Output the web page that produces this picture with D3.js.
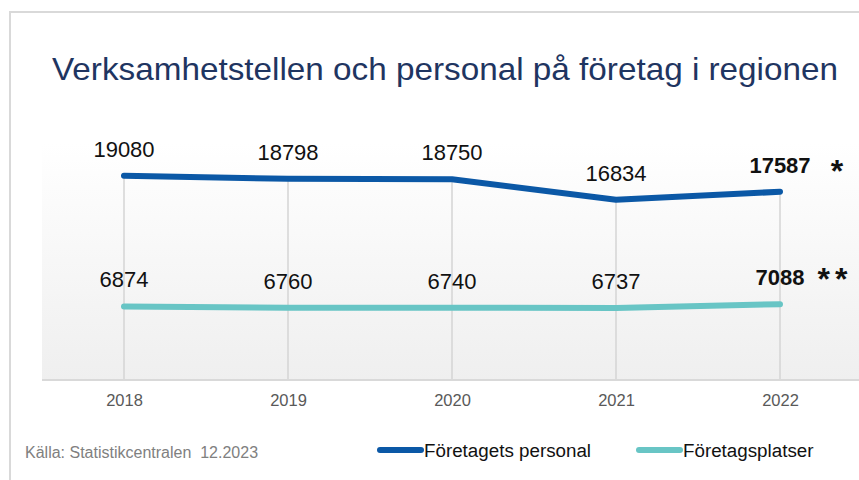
<!DOCTYPE html>
<html>
<head>
<meta charset="utf-8">
<script src="https://cdn.jsdelivr.net/npm/d3@7"></script>
<style>
  body { margin: 0; background: #fff; }
  text { font-family: "Liberation Sans", Arial, sans-serif; }
</style>
</head>
<body>
<div class="chart"></div>
<script>
var years = ["2018", "2019", "2020", "2021", "2022"];
var personal = [19080, 18798, 18750, 16834, 17587];
var platser = [6874, 6760, 6740, 6737, 7088];
var seriesNames = ["Företagets personal", "Företagsplatser"];
var seriesColors = ["#0b58a6", "#68c5c5"];
var lastMarks = ["*", "**"];

var width = 859;
var height = 480;

var svg = d3
  .select(".chart")
  .append("svg")
  .attr("width", width)
  .attr("height", height);

// outer frame (only top and left edges visible)
svg
  .append("path")
  .attr("d", "M10,480 V12 H859")
  .attr("fill", "none")
  .attr("stroke", "#d9d9d9")
  .attr("stroke-width", 2);

var defs = svg.append("defs");
var grad = defs
  .append("linearGradient")
  .attr("id", "bg")
  .attr("x1", 0)
  .attr("y1", 0)
  .attr("x2", 0)
  .attr("y2", 1);
grad.append("stop").attr("offset", "0%").attr("stop-color", "#ffffff");
grad.append("stop").attr("offset", "100%").attr("stop-color", "#efefef");

var plot = { left: 42, right: 862, top: 143, bottom: 380 };

var x = d3
  .scalePoint()
  .domain(years)
  .range([plot.left, plot.right])
  .padding(0.5);

var y = d3.scaleLinear().domain([0, 22000]).range([380, 144.5]);

svg
  .append("rect")
  .attr("x", plot.left)
  .attr("y", plot.top)
  .attr("width", width - plot.left)
  .attr("height", plot.bottom - plot.top)
  .attr("fill", "url(#bg)");

// title
svg
  .append("text")
  .attr("x", 445)
  .attr("y", 80)
  .attr("text-anchor", "middle")
  .attr("font-size", "32px")
  .attr("fill", "#1f3561")
  .attr("textLength", 786)
  .attr("lengthAdjust", "spacingAndGlyphs")
  .text("Verksamhetstellen och personal på företag i regionen");

// drop lines from the top series to the axis
svg
  .append("g")
  .selectAll("line")
  .data(years)
  .enter()
  .append("line")
  .attr("x1", (d) => x(d))
  .attr("x2", (d) => x(d))
  .attr("y1", (d, i) => y(personal[i]))
  .attr("y2", plot.bottom)
  .attr("stroke", "#d4d4d4")
  .attr("stroke-width", 1.5);

// x axis
var xAxis = d3.axisBottom(x).tickSize(0).tickPadding(14);
var xAxisDraw = svg
  .append("g")
  .attr("transform", `translate(0,${plot.bottom})`)
  .call(xAxis);
xAxisDraw.select(".domain").remove();
xAxisDraw
  .selectAll("text")
  .attr("font-size", "16.5px")
  .attr("font-family", "Liberation Sans, Arial, sans-serif")
  .attr("fill", "#595959");

svg
  .append("line")
  .attr("x1", plot.left)
  .attr("x2", width)
  .attr("y1", plot.bottom)
  .attr("y2", plot.bottom)
  .attr("stroke", "#d9d9d9")
  .attr("stroke-width", 2);

var line = d3
  .line()
  .x((d, i) => x(years[i]))
  .y((d) => y(d));

var series = [personal, platser];
var markOffset = [{ dx: 57, dy: -10 }, { dx: 55, dy: -14 }];

series.forEach(function (values, s) {
  svg
    .append("path")
    .datum(values)
    .attr("d", line)
    .attr("fill", "none")
    .attr("stroke", seriesColors[s])
    .attr("stroke-width", 6)
    .attr("stroke-linecap", "round")
    .attr("stroke-linejoin", "round");

  var labels = svg.append("g");
  labels
    .selectAll("text")
    .data(values)
    .enter()
    .append("text")
    .attr("x", (d, i) => x(years[i]))
    .attr("y", (d) => y(d) - 19)
    .attr("text-anchor", "middle")
    .attr("font-size", "22px")
    .attr("font-weight", (d, i) => (i === values.length - 1 ? "bold" : "normal"))
    .attr("fill", "#111")
    .text((d) => d);

  var last = values[values.length - 1];
  svg
    .append("text")
    .attr("x", x(years[years.length - 1]) + markOffset[s].dx)
    .attr("y", y(last) + markOffset[s].dy)
    .attr("text-anchor", "middle")
    .attr("font-size", "32px")
    .attr("font-weight", "bold")
    .attr("letter-spacing", s === 1 ? "5px" : "0px")
    .attr("fill", "#111")
    .text(lastMarks[s]);
});

// source
svg
  .append("text")
  .attr("x", 25)
  .attr("y", 458)
  .attr("font-size", "16px")
  .attr("fill", "#808080")
  .style("white-space", "pre")
  .text("Källa: Statistikcentralen  12.2023");

// legend
var legendX = [378, 637];
seriesNames.forEach(function (name, s) {
  var g = svg.append("g").attr("transform", `translate(${legendX[s]},450)`);
  g.append("line")
    .attr("x1", 2)
    .attr("x2", 43)
    .attr("y1", 0)
    .attr("y2", 0)
    .attr("stroke", seriesColors[s])
    .attr("stroke-width", 6)
    .attr("stroke-linecap", "round");
  g.append("text")
    .attr("x", 46)
    .attr("y", 7)
    .attr("font-size", "18.8px")
    .attr("fill", "#111")
    .text(name);
});
</script>
</body>
</html>
